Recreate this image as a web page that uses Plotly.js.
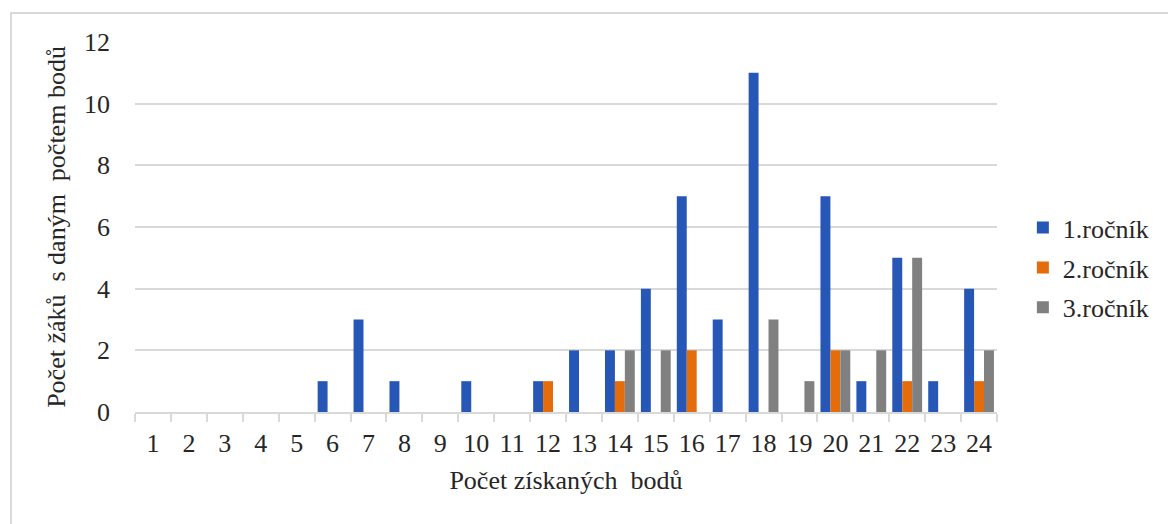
<!DOCTYPE html>
<html>
<head>
<meta charset="utf-8">
<script src="https://cdn.plot.ly/plotly-3.0.1.min.js"></script>
<style>
  html, body { margin: 0; padding: 0; background: #ffffff; }
  #frame { position: absolute; left: 10px; top: 12px; width: 1200px; height: 600px; border: 2px solid #d9d9d9; box-sizing: border-box; }
  #chart { position: absolute; left: 0; top: 0; width: 1168px; height: 524px; }
</style>
</head>
<body>
<div id="frame"></div>
<div id="chart"></div>
<script>
const categories = ['1','2','3','4','5','6','7','8','9','10','11','12','13','14','15','16','17','18','19','20','21','22','23','24'];
const rocnik1 = [0,0,0,0,0,1,3,1,0,1,0,1,2,2,4,7,3,11,0,7,1,5,1,4];
const rocnik2 = [0,0,0,0,0,0,0,0,0,0,0,1,0,1,0,2,0,0,0,2,0,1,0,1];
const rocnik3 = [0,0,0,0,0,0,0,0,0,0,0,0,0,2,2,0,0,3,1,2,2,5,0,2];
const seriesNames = ['1.ročník','2.ročník','3.ročník'];
const yTickVals = [0,2,4,6,8,10,12];

const colors = ['#2657b7','#e46c0a','#808080'];
const seriesData = [rocnik1, rocnik2, rocnik3];

const font = 'Liberation Serif';
const fsize = 26;

const traces = seriesData.map((vals, i) => ({
  type: 'bar',
  name: seriesNames[i],
  x: categories,
  y: vals,
  legendgroup: 'g' + i,
  marker: { color: colors[i], line: { width: 0 } },
  hoverinfo: 'x+y+name'
}));

const layout = {
  width: 1168,
  height: 524,
  paper_bgcolor: 'rgba(0,0,0,0)',
  plot_bgcolor: 'rgba(0,0,0,0)',
  margin: { l: 135, r: 171, t: 42, b: 112 },
  barmode: 'group',
  bargap: 0.17,
  bargroupgap: 0,
  font: { family: font, size: fsize, color: '#262626' },
  xaxis: {
    type: 'category',
    tickson: 'boundaries',
    ticks: 'outside',
    ticklen: 8,
    tickwidth: 2,
    tickcolor: '#d9d9d9',
    tickangle: 0,
    showline: true,
    linecolor: '#d9d9d9',
    linewidth: 2,
    showgrid: false,
    tickfont: { family: font, size: fsize, color: '#262626' },
    ticklabelstandoff: 7,
    title: { text: 'Počet získaných\u00a0 bodů', font: { family: font, size: fsize, color: '#262626' }, standoff: 14 }
  },
  yaxis: {
    range: [0, 12],
    tickvals: yTickVals,
    showgrid: true,
    gridcolor: '#d9d9d9',
    gridwidth: 2,
    zeroline: false,
    showline: false,
    ticks: '',
    tickfont: { family: font, size: fsize, color: '#262626' },
    ticklabelstandoff: 24,
    title: { text: 'Počet žáků\u00a0 s daným\u00a0 počtem bodů', font: { family: font, size: fsize, color: '#262626' }, standoff: 10 }
  },
  legend: {
    x: 1.03,
    y: 0.39,
    xanchor: 'left',
    yanchor: 'middle',
    traceorder: 'grouped',
    tracegroupgap: 3,
    bgcolor: 'rgba(0,0,0,0)',
    font: { family: font, size: fsize, color: '#262626' }
  },
  showlegend: true
};

Plotly.newPlot('chart', traces, layout, { displayModeBar: false, staticPlot: true });
</script>
</body>
</html>
